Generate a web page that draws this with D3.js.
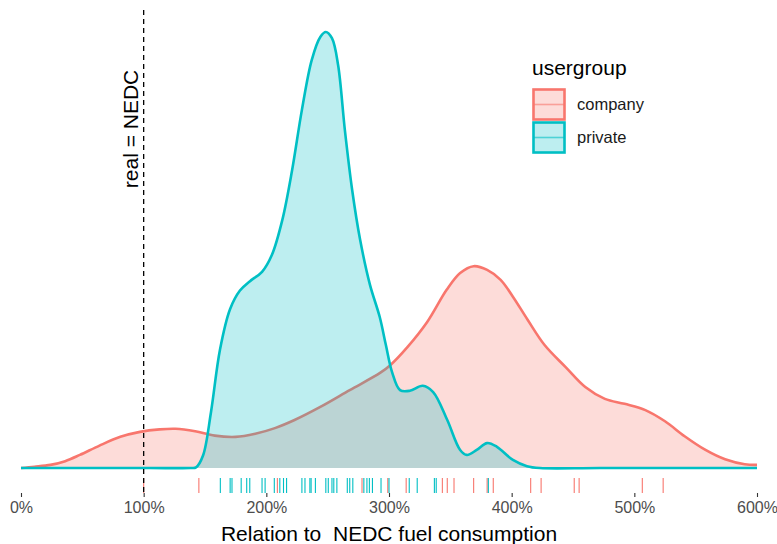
<!DOCTYPE html>
<html>
<head>
<meta charset="utf-8">
<script src="https://cdn.jsdelivr.net/npm/d3@7"></script>
<style>
  body { margin: 0; background: white; }
  svg { display: block; font-family: "Liberation Sans", Arial, sans-serif; }
</style>
</head>
<body>
<div id="container"></div>
<script>
// density curves (x in % of NEDC, y in arbitrary density units)
const companyX = [0, 11, 24, 36, 48, 64, 81, 97, 113, 126, 142, 158, 175, 191, 207, 223, 244, 268, 293, 301, 315, 331, 347, 358, 369, 380, 391, 401, 413, 427, 444, 460, 476, 492, 509, 525, 541, 558, 574, 590, 600]
const companyDensity = [0, 0.02, 0.05, 0.11, 0.21, 0.36, 0.50, 0.58, 0.62, 0.63, 0.59, 0.52, 0.50, 0.55, 0.64, 0.77, 0.98, 1.25, 1.53, 1.65, 1.94, 2.34, 2.86, 3.13, 3.24, 3.18, 3.02, 2.75, 2.38, 1.97, 1.62, 1.30, 1.11, 1.03, 0.93, 0.75, 0.51, 0.29, 0.14, 0.06, 0.05]

const privateX = [0, 64, 105, 138, 142.7, 148.4, 154.9, 162.2, 170.4, 178.5, 186.7, 196.5, 204.5, 213, 221, 229, 237, 244, 248.5, 253.5, 258.5, 264, 270, 276.5, 284.5, 292.5, 297.5, 302.5, 309, 317, 327.5, 336, 347.5, 358, 363.5, 371.5, 380, 388, 401, 412.5, 423, 472, 600]
const privateDensity = [0, 0, 0, 0, 0.01, 0.2, 0.9, 1.9, 2.55, 2.85, 3.0, 3.15, 3.42, 3.98, 4.78, 5.75, 6.55, 6.92, 7.00, 6.90, 6.47, 5.43, 4.46, 3.66, 2.94, 2.42, 1.97, 1.54, 1.25, 1.24, 1.32, 1.22, 0.77, 0.29, 0.21, 0.29, 0.40, 0.34, 0.13, 0.03, 0, 0, 0]

// rug observations
const companyRug = [100, 145, 209, 278, 299, 314, 343.5, 347.5, 353, 369, 380, 385, 415.5, 424, 451, 455, 506.5, 523.5]
const privateRug = [162.5, 170.5, 172, 179.5, 184, 186.5, 196.5, 199, 206.5, 211, 214, 216.5, 229, 231.5, 235.5, 236.5, 240, 248.5, 250.5, 253.5, 255, 257.5, 266, 268, 270.5, 279.5, 282, 284, 286.5, 293.5, 300, 316.5, 323, 337, 338.5, 381]

const xTicks = [0, 100, 200, 300, 400, 500, 600]
const groups = ["company", "private"]
const groupColors = ["#F8766D", "#00BFC4"]

const w = 777
const h = 544

const svg = d3.select("#container")
    .append("svg")
    .attr("width", w)
    .attr("height", h)

const xScale = d3.scaleLinear().domain([0, 600]).range([21, 757])
const yScale = d3.scaleLinear().domain([0, 7]).range([468, 32])
const panelTop = 10
const panelBottom = 493

const curve = d3.curveCatmullRom.alpha(0.5)
const area = d3.area()
    .x((d) => xScale(d[0]))
    .y0(yScale(0))
    .y1((d) => Math.min(yScale(0), yScale(d[1])))
    .curve(curve)
const line = d3.line()
    .x((d) => xScale(d[0]))
    .y((d) => yScale(d[1]))
    .curve(curve)

const series = [
    d3.zip(companyX, companyDensity),
    d3.zip(privateX, privateDensity),
]

series.forEach((pts, i) => {
    svg.append("path")
        .attr("d", area(pts))
        .attr("fill", groupColors[i])
        .attr("fill-opacity", 0.26)
    svg.append("path")
        .attr("d", line(pts))
        .attr("fill", "none")
        .attr("stroke", groupColors[i])
        .attr("stroke-width", 2.6)
        .attr("stroke-linejoin", "round")
})

// rug
const rugs = [companyRug, privateRug]
rugs.forEach((vals, i) => {
    svg.append("g")
        .selectAll("line")
        .data(vals)
        .enter()
        .append("line")
        .attr("x1", (d) => xScale(d))
        .attr("x2", (d) => xScale(d))
        .attr("y1", panelBottom - 15)
        .attr("y2", panelBottom)
        .attr("stroke", groupColors[i])
        .attr("stroke-width", 1.1)
})

// reference line
svg.append("line")
    .attr("x1", xScale(100))
    .attr("x2", xScale(100))
    .attr("y1", panelTop)
    .attr("y2", panelBottom)
    .attr("stroke", "black")
    .attr("stroke-width", 1.3)
    .attr("stroke-dasharray", "5,4")
svg.append("text")
    .attr("transform", `translate(${xScale(100) - 6}, 129) rotate(-90)`)
    .attr("text-anchor", "middle")
    .style("font-size", "21px")
    .text("real = NEDC")

// x axis
const xAxis = d3.axisBottom(xScale)
    .tickValues(xTicks)
    .tickFormat((d) => d + "%")
    .tickSize(4)
    .tickPadding(5)
const gx = svg.append("g")
    .attr("transform", `translate(0, ${panelBottom})`)
    .call(xAxis)
gx.select(".domain").remove()
gx.selectAll(".tick line").attr("stroke", "#333333").attr("stroke-width", 1.1)
gx.selectAll(".tick text")
    .attr("fill", "#4D4D4D")
    .style("font-size", "16px")
    .style("font-family", '"Liberation Sans", Arial, sans-serif')

svg.append("text")
    .attr("x", (xScale(0) + xScale(600)) / 2)
    .attr("y", 541)
    .attr("text-anchor", "middle")
    .style("font-size", "21px")
    .style("white-space", "pre")
    .text("Relation to  NEDC fuel consumption")

// legend
const legend = svg.append("g").attr("transform", "translate(532, 0)")
legend.append("text")
    .attr("x", 0)
    .attr("y", 75)
    .style("font-size", "21px")
    .text("usergroup")
groups.forEach((g, i) => {
    const top = 88 + i * 33
    legend.append("rect")
        .attr("x", 1.5)
        .attr("y", top + 1.5)
        .attr("width", 31)
        .attr("height", 30)
        .attr("fill", groupColors[i])
        .attr("fill-opacity", 0.26)
        .attr("stroke", groupColors[i])
        .attr("stroke-width", 2.6)
    legend.append("line")
        .attr("x1", 1.5)
        .attr("x2", 32.5)
        .attr("y1", top + 16.5)
        .attr("y2", top + 16.5)
        .attr("stroke", groupColors[i])
        .attr("stroke-opacity", 0.6)
        .attr("stroke-width", 1.6)
    legend.append("text")
        .attr("x", 45)
        .attr("y", top + 16.5)
        .attr("dy", "0.35em")
        .style("font-size", "16.5px")
        .attr("fill", "#1A1A1A")
        .text(g)
})
</script>
</body>
</html>
